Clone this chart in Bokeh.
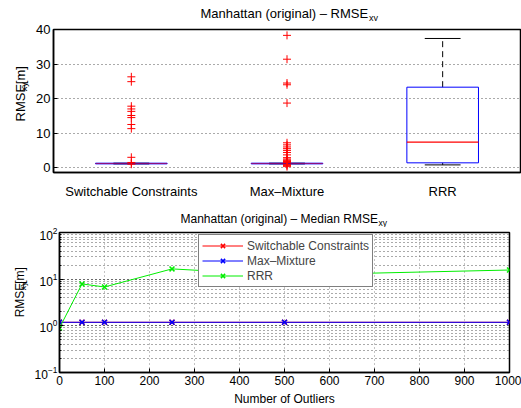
import numpy as np
from bokeh.plotting import figure
from bokeh.models import Range1d, FixedTicker, Legend, LegendItem, ColumnDataSource, Label
from bokeh.layouts import column, row
from bokeh.embed import file_html
from bokeh.resources import INLINE

# ---------------- data ----------------
# box plot (top)
methods = ["Switchable Constraints", "Max\u2013Mixture", "RRR"]
box_q1 = [1.1, 1.1, 1.4]
box_median = [1.2, 1.2, 7.4]
box_q3 = [1.3, 1.3, 23.3]
whisker_low = [1.1, 1.1, 0.8]
whisker_high = [1.3, 1.3, 37.4]
sc_outliers = [26.3, 24.9, 17.8, 17.0, 16.3, 15.1, 14.5, 12.5, 11.3, 3.0, 1.5, 1.0]
mm_outliers = [38.3, 31.4, 24.5, 24.0, 18.7, 7.2, 6.6, 6.0, 5.5, 5.0, 4.4, 3.7,
               2.9, 2.5, 2.2, 2.0, 1.8, 1.6, 1.5, 0.9, 0.6, 0.3]
rrr_outliers = []

# median RMSE vs number of outliers (bottom)
n_outliers = [0, 50, 100, 250, 500, 1000]
sc_median = [1.19, 1.19, 1.19, 1.19, 1.19, 1.19]
mm_median = [1.19, 1.19, 1.19, 1.19, 1.19, 1.19]
rrr_median = [0.90, 7.9, 6.8, 16.6, 12.2, 15.7]
x_ticks = [0, 100, 200, 300, 400, 500, 600, 700, 800, 900, 1000]
y_ticks_top = [0, 10, 20, 30, 40]

title_top = "Manhattan (original) \u2013 RMSE"
title_bottom = "Manhattan (original) \u2013 Median RMSE"
sub_text = "xy"
ylabel_main = "RMSE"
ylabel_unit = " [m]"
xlabel_bottom = "Number of Outliers"

FONT = "Liberation Sans"
BOX_W = 0.46
CAP_W = 0.23
PAGE_W = 521
YL1_W = 33
YL2_W = 31


def text_fig(w, h, top):
    """A blank canvas whose data coordinates are its pixels."""
    f = figure(width=w, height=h, output_backend="svg", toolbar_location=None,
               x_range=Range1d(0, w), y_range=Range1d(0, h),
               x_axis_location=None, y_axis_location=None,
               min_border=0, min_border_left=0, min_border_right=0,
               min_border_top=0, min_border_bottom=0)
    f.grid.visible = False
    f.outline_line_color = None
    f.tags = [top, h]
    return f


def put(f, x, page_y, s, size, angle=0.0):
    top, h = f.tags
    f.add_layout(Label(x=x, y=top + h - page_y, text=s, text_font=FONT,
                       text_font_size=size, text_align="left",
                       text_baseline="alphabetic", text_color="black", angle=angle))


# ---------------- top title ----------------
T1_H = 21
t1 = text_fig(PAGE_W, T1_H, 0)
put(t1, 200, 13.3, title_top, "13px")
put(t1, 368.5, 17.0, sub_text, "9px")

# ---------------- top figure ----------------
P1_TOP = T1_H
P1_H = 180
FL, FR, FT, FB = 52, 520, 29, 175        # page coords of frame
X0, X1, Y0, Y1 = 0.5, 3.5, -1.4, 40.0

p1 = figure(width=PAGE_W - YL1_W, height=P1_H, output_backend="svg", toolbar_location=None,
            x_range=Range1d(X0, X1), y_range=Range1d(Y0, Y1),
            min_border_left=FL - YL1_W, min_border_right=PAGE_W - FR,
            min_border_top=FT - P1_TOP, min_border_bottom=P1_TOP + P1_H - FB)
p1.xgrid.grid_line_color = None
p1.ygrid.grid_line_color = "#555555"
p1.ygrid.grid_line_dash = "1 3"
p1.ygrid.ticker = FixedTicker(ticks=y_ticks_top)
p1.outline_line_color = "black"
p1.outline_line_width = 1.5

pos = np.arange(1, len(methods) + 1)
p1.xaxis.ticker = FixedTicker(ticks=list(pos))
p1.xaxis.major_label_overrides = {int(k): m for k, m in zip(pos, methods)}
p1.xaxis.major_tick_line_color = None
p1.xaxis.minor_tick_line_color = None
p1.xaxis.major_label_standoff = 5
p1.yaxis.ticker = FixedTicker(ticks=y_ticks_top)
p1.yaxis.major_tick_in = 4
p1.yaxis.major_tick_out = 0
p1.yaxis.minor_tick_line_color = None
p1.yaxis.major_label_standoff = 3
for ax in (p1.xaxis, p1.yaxis):
    ax.axis_line_width = 1.5
    ax.major_label_text_font = FONT
    ax.major_label_text_font_size = "13px"
    ax.major_label_text_color = "black"

q1 = np.array(box_q1); q3 = np.array(box_q3)
flat = (q3 - q1) < 0.5
src = ColumnDataSource(dict(
    x=pos, l=pos - BOX_W / 2, r=pos + BOX_W / 2,
    q1=q1, q3=q3, med=box_median, lo=whisker_low, hi=whisker_high,
    cl=pos - CAP_W / 2, cr=pos + CAP_W / 2,
    malpha=np.where(flat, 0.5, 1.0)))
p1.segment(x0="x", x1="x", y0="q3", y1="hi", source=src, line_color="black",
           line_dash="6 4", line_width=1)
p1.segment(x0="x", x1="x", y0="lo", y1="q1", source=src, line_color="black",
           line_dash="6 4", line_width=1)
p1.segment(x0="cl", x1="cr", y0="hi", y1="hi", source=src, line_color="black", line_width=1)
p1.segment(x0="cl", x1="cr", y0="lo", y1="lo", source=src, line_color="black", line_width=1)
p1.quad(left="l", right="r", bottom="q1", top="q3", source=src,
        fill_color=None, line_color="blue", line_width=1)
p1.segment(x0="l", x1="r", y0="med", y1="med", source=src, line_color="red",
           line_width=1.2, line_alpha="malpha")

ox, oy = [], []
for k, vals in zip(pos, [sc_outliers, mm_outliers, rrr_outliers]):
    ox += [k] * len(vals)
    oy += list(vals)
p1.scatter(ox, oy, marker="cross", size=8, line_color="red", line_width=1)

# y label of top figure (rotated, reads upwards)
yl1 = text_fig(YL1_W, P1_H, P1_TOP)
put(yl1, 20.0, 136.7, ylabel_main, "13px", np.pi / 2)
put(yl1, 23.5, 98.8, sub_text, "9px", np.pi / 2)
put(yl1, 20.0, 89.8, ylabel_unit, "13px", np.pi / 2)

# ---------------- bottom title ----------------
T2_TOP = P1_TOP + P1_H
T2_H = 26
t2 = text_fig(PAGE_W, T2_H, T2_TOP)
put(t2, 180, 218.5, title_bottom, "12px")
put(t2, 378, 222.5, sub_text, "8.5px")

# ---------------- bottom figure ----------------
P2_TOP = T2_TOP + T2_H
P2_H = 408 - P2_TOP
GL, GR, GT, GB = 58, 509, 232, 373
LX0, LX1, LY0, LY1 = 0.0, 1000.0, 0.1, 100.0

p2 = figure(width=PAGE_W - YL2_W, height=P2_H, output_backend="svg", toolbar_location=None,
            x_range=Range1d(LX0, LX1), y_range=Range1d(LY0, LY1), y_axis_type="log",
            min_border_left=GL - YL2_W, min_border_right=PAGE_W - GR,
            min_border_top=GT - P2_TOP, min_border_bottom=P2_TOP + P2_H - GB)
p2.outline_line_color = "black"
p2.outline_line_width = 1.5
p2.xaxis.ticker = FixedTicker(ticks=x_ticks)
p2.xgrid.ticker = FixedTicker(ticks=x_ticks)
p2.xgrid.grid_line_color = "#888888"
p2.xgrid.grid_line_dash = "1 3"
p2.ygrid.grid_line_color = "#555555"
p2.ygrid.grid_line_dash = "1 3"
p2.ygrid.minor_grid_line_color = "#555555"
p2.ygrid.minor_grid_line_dash = "1 3"
for ax in (p2.xaxis, p2.yaxis):
    ax.axis_line_width = 1.5
    ax.major_tick_in = 4
    ax.major_tick_out = 0
    ax.major_label_text_font = FONT
    ax.major_label_text_font_size = "12px"
    ax.major_label_text_color = "black"
p2.xaxis.minor_tick_line_color = None
p2.yaxis.minor_tick_in = 2
p2.yaxis.minor_tick_out = 0
p2.xaxis.major_label_standoff = 3
p2.yaxis.major_label_standoff = 2
p2.xaxis.axis_label = xlabel_bottom
p2.xaxis.axis_label_standoff = 4
p2.xaxis.axis_label_text_font = FONT
p2.xaxis.axis_label_text_font_size = "12px"
p2.xaxis.axis_label_text_font_style = "normal"
p2.xaxis.axis_label_text_color = "black"

r_sc_l = p2.line(n_outliers, sc_median, line_color="red", line_width=1)
r_sc_m = p2.scatter(n_outliers, sc_median, marker="x", size=7, line_color="red", line_width=1.5)
r_mm_l = p2.line(n_outliers, mm_median, line_color="blue", line_width=1)
r_mm_m = p2.scatter(n_outliers, mm_median, marker="x", size=7, line_color="blue", line_width=1.5)
r_rr_l = p2.line(n_outliers, rrr_median, line_color="#00EE00", line_width=1)
r_rr_m = p2.scatter(n_outliers, rrr_median, marker="x", size=7, line_color="#00EE00", line_width=1.5)

legend = Legend(items=[
    LegendItem(label="Switchable Constraints", renderers=[r_sc_l, r_sc_m]),
    LegendItem(label="Max\u2013Mixture", renderers=[r_mm_l, r_mm_m]),
    LegendItem(label="RRR", renderers=[r_rr_l, r_rr_m]),
], location=(139, 85))
legend.label_text_font = FONT
legend.label_text_font_size = "12px"
legend.label_height = 15
legend.glyph_height = 15
legend.glyph_width = 41
legend.label_standoff = 4
legend.spacing = 0
legend.padding = 3
legend.margin = 0
legend.border_line_color = "black"
legend.border_line_width = 1.2
legend.background_fill_alpha = 1
p2.add_layout(legend)

yl2 = text_fig(YL2_W, P2_H, P2_TOP)
put(yl2, 19.0, 336.7, ylabel_main, "12px", np.pi / 2)
put(yl2, 22.0, 301.8, sub_text, "8.5px", np.pi / 2)
put(yl2, 19.0, 293.3, ylabel_unit, "12px", np.pi / 2)

layout = column(t1, row(yl1, p1, spacing=0), t2, row(yl2, p2, spacing=0), spacing=0)
open("out.html", "w").write(file_html(layout, INLINE))
